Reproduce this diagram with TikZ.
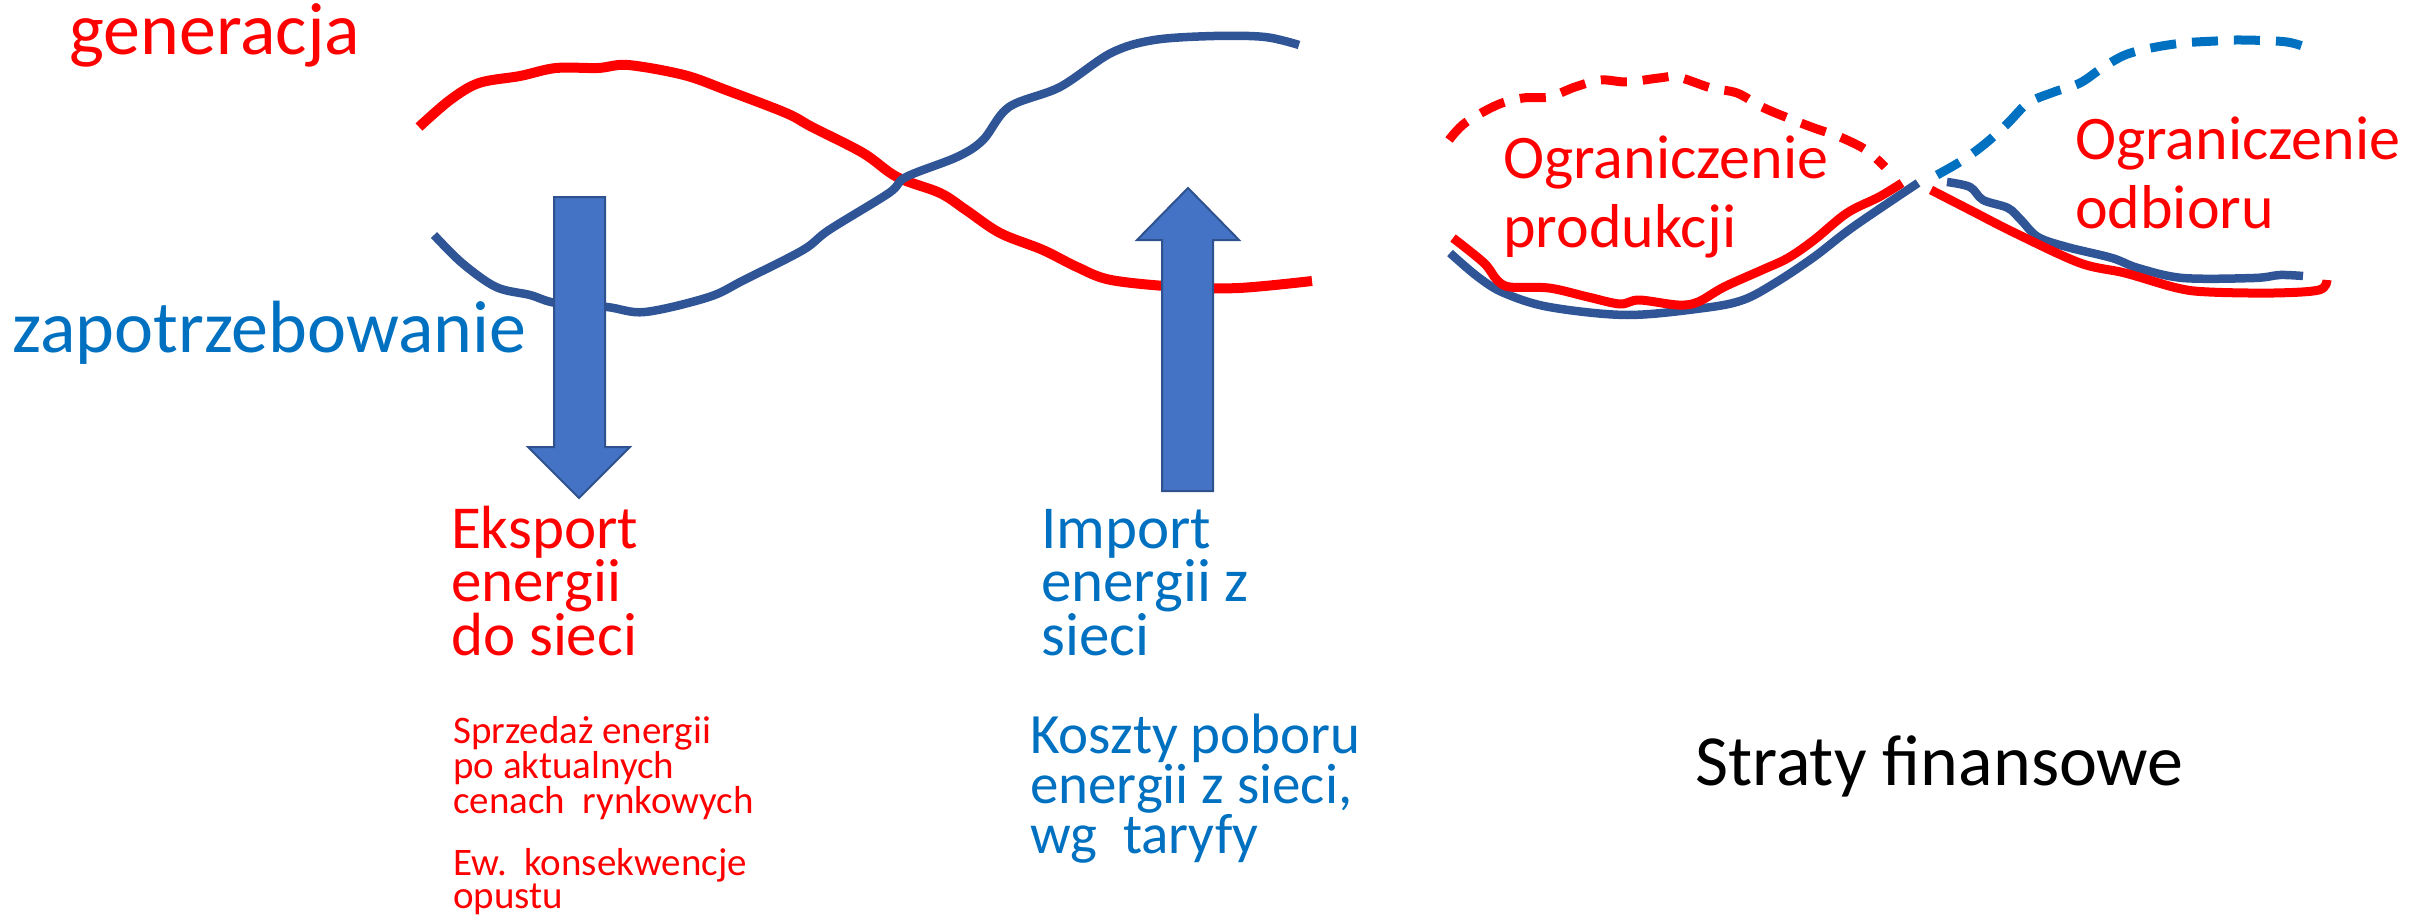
\documentclass[tikz,border=0pt]{standalone}
\usepackage{fontspec}
\setmainfont{Carlito}
\definecolor{genred}{RGB}{255,0,0}
\definecolor{demblue}{RGB}{47,85,151}
\definecolor{txtblue}{RGB}{0,112,192}
\definecolor{flowfill}{RGB}{68,114,196}
\definecolor{flowedge}{RGB}{47,82,143}
\begin{document}
\begin{tikzpicture}[x=1pt,y=-1pt,
  gen/.style={draw=genred,line width=10pt,line join=round},
  dem/.style={draw=demblue,line width=8.5pt,line join=round},
  gendash/.style={draw=genred,line width=9pt,dash pattern=on 26pt off 16pt},
  demdash/.style={draw=txtblue,line width=9pt,dash pattern=on 26pt off 16pt},
  flow/.style={fill=flowfill,draw=flowedge,line width=2pt,line join=miter},
  lbl/.style={inner sep=0pt,anchor=base west,align=left}]
\useasboundingbox (0,0) rectangle (2415,915);

% --- left panel: generation and demand over the day
\draw[gen] plot[smooth,tension=0.55] coordinates {
  (419,127) (450,100) (479,83) (520,76) (556,68) (598,68) (628,65)
  (684,75) (726,90) (786,113) (812,127) (863,153) (897,177) (940,193)
  (966,210) (1000,233) (1043,250) (1077,267) (1111,280) (1179,287)
  (1239,288) (1312,281)};
\draw[dem] plot[smooth,tension=0.55] coordinates {
  (434,235) (462,263) (496,287) (530,295) (556,303) (607,307) (645,312)
  (709,297) (744,280) (803,250) (829,230) (889,193) (906,177) (957,157)
  (983,140) (1009,107) (1060,87) (1111,53) (1154,40) (1214,36)
  (1265,37) (1299,45)};

\node[lbl,text=genred,font=\fontsize{74}{80}\selectfont] (gentxt) at (69,55) {generacja};
\node[lbl,text=txtblue,font=\fontsize{74}{80}\selectfont] (demtxt) at (12,352) {zapotrzebowanie};

% export (down) and import (up) arrows
\path[flow] (554,197) -- (605,197) -- (605,447) -- (630,447) -- (579,498)
  -- (528,447) -- (554,447) -- cycle;
\path[flow] (1162,491) -- (1213,491) -- (1213,240) -- (1239,240) -- (1188,188)
  -- (1137,240) -- (1162,240) -- cycle;

% multi-line labels are placed by the baseline of their last line
\node[lbl,text=genred,font=\fontsize{61}{53.5}\selectfont] (eksport) at (451,655)
  {Eksport\\energii\\do sieci};
\node[lbl,text=txtblue,font=\fontsize{61}{53.5}\selectfont] (import) at (1041,655)
  {Import\\energii z\\sieci};
\node[lbl,text=genred,font=\fontsize{39}{32.5}\selectfont] (sprzedaz) at (453,813)
  {Sprzedaż energii\\po aktualnych\\cenach\ \ rynkowych};
\node[lbl,text=genred,font=\fontsize{39}{33}\selectfont] (opust) at (453,908)
  {Ew.\ \ konsekwencje\\opustu};
\node[lbl,text=txtblue,font=\fontsize{57}{47.5}\selectfont] (koszty) at (1030,853)
  {Koszty poboru\\energii z sieci,\\wg\ \ taryfy};

% --- right panel: curtailment
\draw[gendash] plot[smooth,tension=0.55] coordinates {
  (1449,140) (1465,123) (1497,105) (1523,98) (1549,97) (1575,87) (1601,80)
  (1627,82) (1659,78) (1678,77) (1711,88) (1737,93) (1762,107) (1788,118)
  (1814,128) (1840,137) (1866,150) (1885,167)};
\draw[demdash] plot[smooth,tension=0.55] coordinates {
  (1937,175) (1963,160) (1986,143) (2008,123) (2028,103) (2054,92)
  (2080,83) (2102,68) (2125,55) (2151,48) (2183,43) (2216,41) (2241,40)
  (2287,42) (2313,50)};
\draw[dem] plot[smooth,tension=0.55] coordinates {
  (1450,253) (1478,277) (1504,293) (1549,307) (1627,315) (1704,308)
  (1743,300) (1775,283) (1814,257) (1853,227) (1918,183)};
\draw[gen,line width=9pt] plot[smooth,tension=0.55] coordinates {
  (1453,238) (1484,263) (1497,280) (1510,287) (1549,288) (1588,297)
  (1620,304) (1639,300) (1678,305) (1698,302) (1724,287) (1762,270)
  (1788,258) (1814,240) (1847,213) (1879,197) (1902,183)};
\draw[dem] plot[smooth,tension=0.55] coordinates {
  (1947,182) (1970,187) (1983,200) (2008,208) (2021,220) (2038,237)
  (2067,247) (2112,258) (2138,268) (2183,278) (2254,278) (2280,275)
  (2303,276)};
\draw[gen,line width=9pt] plot[smooth,tension=0.55] coordinates {
  (1931,190) (1970,210) (2015,233) (2080,263) (2125,273) (2177,288)
  (2209,292) (2274,293) (2319,290) (2327,280)};

\node[lbl,text=genred,font=\fontsize{62}{69}\selectfont] (ogrprod) at (1503,247)
  {Ograniczenie\\produkcji};
\node[lbl,text=genred,font=\fontsize{62}{69}\selectfont] (ogrodb) at (2075,228)
  {Ograniczenie\\odbioru};
\node[lbl,text=black,font=\fontsize{72}{80}\selectfont] (straty) at (1695,785)
  {Straty finansowe};
\end{tikzpicture}
\end{document}
